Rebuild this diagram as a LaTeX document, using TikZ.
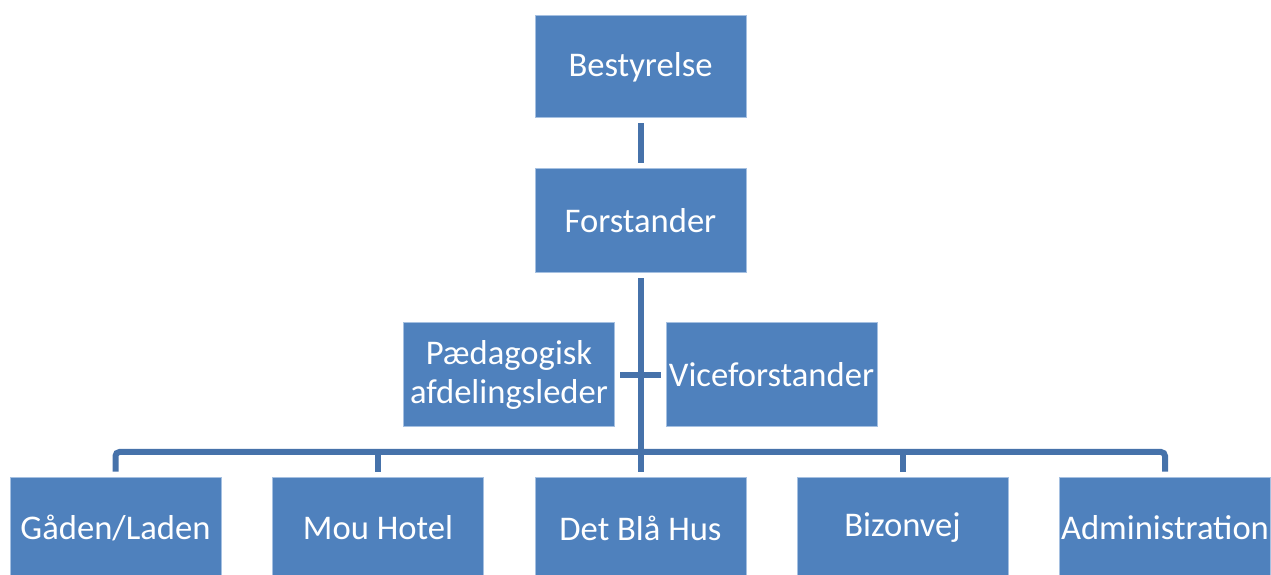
\documentclass[tikz,border=0pt]{standalone}
\usepackage{fontspec}
\setmainfont{Carlito}
\usepackage{tikz}
\definecolor{boxblue}{RGB}{79,129,189}
\definecolor{linkblue}{RGB}{70,114,170}
\definecolor{edgeblue}{RGB}{165,192,225}

\tikzset{
  unit/.style={draw=edgeblue,line width=0.5pt,fill=boxblue,text=white,minimum width=105.5pt,minimum height=52pt,inner sep=0pt,align=center,font=\fontsize{17.3pt}{19.5pt}\selectfont},
  link/.style={draw=linkblue,line width=3pt,shorten <=2.5pt,shorten >=2.5pt}
}

\begin{document}
\begin{tikzpicture}[x=0.5pt,y=0.5pt]
  \useasboundingbox (0,0) rectangle (1271,574);
  \clip (0,0) rectangle (1271,574);
  % top of the chart
  \node[unit,minimum height=51pt] (best) at (640.5,507) {Bestyrelse};
  \node[unit] (forst) at (640.5,353) {Forstander};
  \node[unit] (paed) at (509,199) {Pædagogisk\\afdelingsleder};
  \node[unit] (vice) at (771.5,199) {Viceforstander};
  % departments
  \foreach \k/\x/\l in {gaden/115.5/{Gåden/Laden},mou/378/{Mou Hotel},det/640.5/{Det Blå Hus},bizon/902.5/{Bizonvej},admin/1165/{Administration}} {\node[unit,minimum height=51pt] (\k) at (\x,46) {\l};}
  \coordinate (bus) at (640.5,122);
  \draw[link] (best) -- (forst);
  \draw[link] (forst) -- (det);
  \draw[link] (paed) -- (vice);
  \draw[link,rounded corners=2pt] (gaden) -- (gaden |- bus) -- (admin |- bus) -- (admin);
  \foreach \k in {mou,bizon} {\draw[link,shorten >=0pt] (\k) -- (\k |- bus);}
\end{tikzpicture}
\end{document}
